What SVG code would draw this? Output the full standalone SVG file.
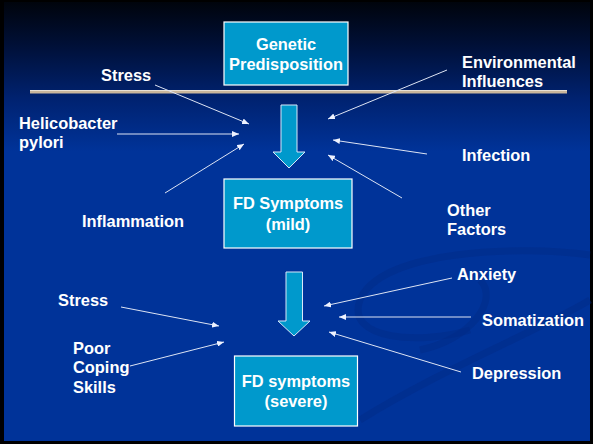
<svg xmlns="http://www.w3.org/2000/svg" width="593" height="444" viewBox="0 0 593 444">
<defs>
<linearGradient id="bg" x1="0" y1="0" x2="0" y2="1" gradientUnits="objectBoundingBox">
<stop offset="0" stop-color="#00040c"/>
<stop offset="0.1" stop-color="#001038"/>
<stop offset="0.22" stop-color="#002270"/>
<stop offset="0.34" stop-color="#003399"/>
<stop offset="1" stop-color="#003399"/>
</linearGradient>
<marker id="ah" markerWidth="7" markerHeight="6" refX="7" refY="3" orient="auto" markerUnits="userSpaceOnUse">
<path d="M0,0 L7,3 L0,6 Z" fill="#eef2ff"/>
</marker>
<style>
.lbl{font-family:"Liberation Sans",Arial,sans-serif;font-weight:bold;font-size:16.4px;fill:#ffffff}
.ctr{text-anchor:middle}
.box{fill:#0099cc;stroke:#ffffff;stroke-width:1.2}
.blk{fill:#0099cc;stroke:#d8e8f8;stroke-width:1}
.con{stroke:#dde4f4;stroke-width:1;fill:none;marker-end:url(#ah)}
.sw{fill:none;stroke:#002a85;stroke-width:7;opacity:0.45}
</style>
</defs>
<rect x="0" y="0" width="593" height="444" fill="#000000"/>
<rect x="4" y="2" width="586" height="439" fill="url(#bg)"/>
<g id="swooshes">
<path class="sw" d="M590,255 C520,245 380,250 360,300 C345,340 420,345 470,330"/>
<path class="sw" d="M590,300 C540,330 440,370 360,420" stroke-width="10"/>
<path class="sw" d="M480,280 C500,300 470,340 420,350" stroke-width="4"/>
</g>
<g id="divider">
<rect x="30" y="90" width="537" height="3.5" fill="#c9b69c"/>
<line x1="30" y1="90.5" x2="567" y2="90.5" stroke="#e8e0d4" stroke-width="1"/>
</g>
<g id="genetic">
<rect class="box" x="224" y="22" width="124" height="63"/>
<text class="lbl ctr" x="286" y="50">Genetic</text>
<text class="lbl ctr" x="286" y="70">Predisposition</text>
</g>
<g id="fd-mild">
<rect class="box" x="224" y="179" width="128" height="69"/>
<text class="lbl ctr" x="288" y="209">FD Symptoms</text>
<text class="lbl ctr" x="288" y="230">(mild)</text>
</g>
<g id="fd-severe">
<rect class="box" x="234.5" y="356" width="123" height="70"/>
<text class="lbl ctr" x="296" y="387">FD symptoms</text>
<text class="lbl ctr" x="296" y="407">(severe)</text>
</g>
<g id="block-arrow-1">
<path class="blk" d="M281,105 L297,105 L297,152 L305,152 L289,168 L273,152 L281,152 Z"/>
</g>
<g id="block-arrow-2">
<path class="blk" d="M286,272 L302.5,272 L302.5,321 L310,321 L294,336 L278,321 L286,321 Z"/>
</g>
<g id="labels">
<text class="lbl" x="101" y="81">Stress</text>
<text class="lbl" x="462" y="68">Environmental</text>
<text class="lbl" x="462" y="87">Influences</text>
<text class="lbl" x="19" y="129">Helicobacter</text>
<text class="lbl" x="19" y="148">pylori</text>
<text class="lbl" x="462" y="161">Infection</text>
<text class="lbl" x="82" y="227">Inflammation</text>
<text class="lbl" x="447" y="216">Other</text>
<text class="lbl" x="447" y="235">Factors</text>
<text class="lbl" x="457" y="280">Anxiety</text>
<text class="lbl" x="58" y="306">Stress</text>
<text class="lbl" x="482" y="326">Somatization</text>
<text class="lbl" x="73" y="354">Poor</text>
<text class="lbl" x="73" y="373">Coping</text>
<text class="lbl" x="73" y="393">Skills</text>
<text class="lbl" x="472" y="379">Depression</text>
</g>
<g id="connectors">
<line class="con" x1="155" y1="85" x2="249" y2="124"/>
<line class="con" x1="117" y1="134" x2="239" y2="134"/>
<line class="con" x1="165" y1="193" x2="244" y2="144"/>
<line class="con" x1="447" y1="70" x2="328" y2="119"/>
<line class="con" x1="427" y1="154" x2="333" y2="140"/>
<line class="con" x1="402" y1="198" x2="328" y2="155"/>
<line class="con" x1="452" y1="278" x2="324" y2="306"/>
<line class="con" x1="471" y1="317" x2="339" y2="317"/>
<line class="con" x1="461" y1="372" x2="329" y2="332"/>
<line class="con" x1="121" y1="307" x2="219" y2="326"/>
<line class="con" x1="130" y1="366" x2="224" y2="342"/>
</g>
</svg>
